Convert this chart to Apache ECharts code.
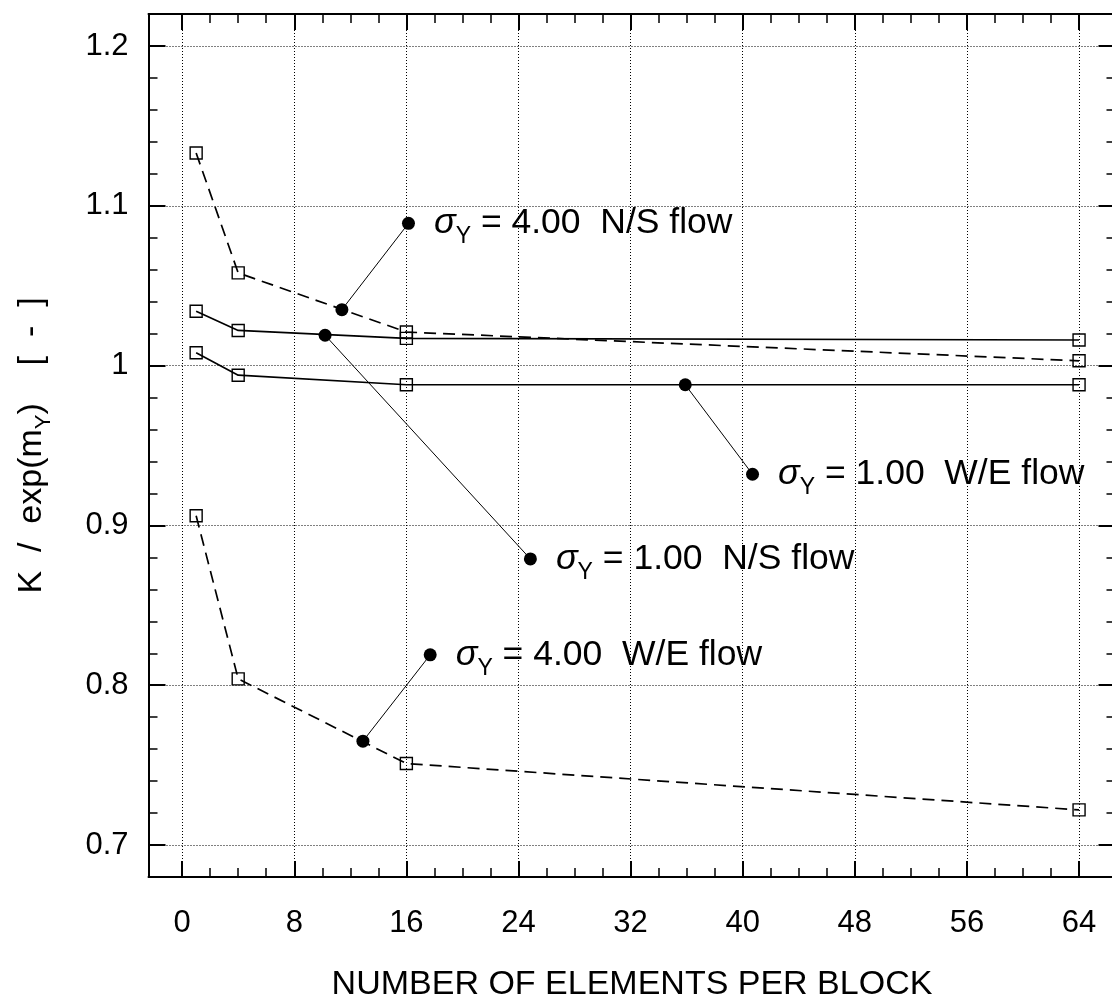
<!DOCTYPE html>
<html>
<head>
<meta charset="utf-8">
<title>K / exp(mY) versus number of elements per block</title>
<script src="https://cdn.jsdelivr.net/npm/echarts@6/dist/echarts.min.js"></script>
<style>
  html, body { margin: 0; padding: 0; background: #fff; }
  #chart { width: 1112px; height: 1003px; }
</style>
</head>
<body>
<div id="chart"></div>
<script>
// Number of fine-grid elements per coarse block
const blockSizes = [1, 4, 16, 64];

// Effective conductivity normalised by exp(mY)
const sigma4NS = [1.133, 1.058, 1.021, 1.003];
const sigma1NS = [1.034, 1.022, 1.017, 1.016];
const sigma1WE = [1.008, 0.994, 0.988, 0.988];
const sigma4WE = [0.906, 0.804, 0.751, 0.722];

// Callouts: point on the curve, point next to the text, and the text
const calloutFrom = [[11.4, 1.035], [10.2, 1.019], [35.9, 0.988], [12.9, 0.765]];
const calloutTo   = [[16.15, 1.089], [24.85, 0.879], [40.7, 0.932], [17.7, 0.819]];
const calloutText = ['4.00  N/S flow', '1.00  N/S flow', '1.00  W/E flow', '4.00  W/E flow'];

// Axis ticks and grid positions
const xMajor = [0, 8, 16, 24, 32, 40, 48, 56, 64];
const xMinor = [2, 4, 6, 10, 12, 14, 18, 20, 22, 26, 28, 30, 34, 36, 38, 42, 44, 46, 50, 52, 54, 58, 60, 62];
const yMajor = [0.7, 0.8, 0.9, 1, 1.1, 1.2];
const yMinor = [0.72, 0.74, 0.76, 0.78, 0.82, 0.84, 0.86, 0.88, 0.92, 0.94, 0.96, 0.98,
                1.02, 1.04, 1.06, 1.08, 1.12, 1.14, 1.16, 1.18];

const X_MIN = -2.4, X_MAX = 66.6, Y_MIN = 0.68, Y_MAX = 1.22;
const FONT = '"Liberation Sans", Arial, Helvetica, sans-serif';

function pairs(xs, ys) { return xs.map((x, i) => [x, ys[i]]); }

const hiddenLine = { show: false, onZero: false };
const frameLine = { show: true, onZero: false, lineStyle: { color: '#000', width: 2 } };

function tickAxis(kind, position, ticks, len, opts) {
  return Object.assign({
    type: 'value', position: position,
    min: kind === 'x' ? X_MIN : Y_MIN,
    max: kind === 'x' ? X_MAX : Y_MAX,
    axisLine: hiddenLine,
    axisTick: { show: true, inside: true, length: len, customValues: ticks,
                lineStyle: { color: '#000', width: len > 10 ? 2 : 1.5 } },
    axisLabel: { show: false },
    splitLine: { show: false }
  }, opts || {});
}

const xAxes = [
  tickAxis('x', 'bottom', xMajor, 16, {
    axisLine: frameLine,
    axisLabel: { show: true, customValues: xMajor, margin: 31, color: '#000',
                 fontSize: 31, fontFamily: FONT },
    name: 'NUMBER OF ELEMENTS PER BLOCK', nameLocation: 'middle', nameGap: 91,
    nameTextStyle: { color: '#000', fontSize: 34, fontFamily: FONT }
  }),
  tickAxis('x', 'bottom', xMinor, 9),
  tickAxis('x', 'top', xMajor, 16, { axisLine: frameLine }),
  tickAxis('x', 'top', xMinor, 9)
];
const yAxes = [
  tickAxis('y', 'left', yMajor, 17, {
    axisLine: frameLine,
    axisLabel: { show: true, customValues: yMajor, margin: 20, color: '#000',
                 fontSize: 31, fontFamily: FONT },
    name: 'K  /  exp(m{s|Y})    [  -  ]', nameLocation: 'middle', nameRotate: 90, nameGap: 94,
    nameTextStyle: {
      color: '#000', fontSize: 34, fontFamily: FONT, lineHeight: 46,
      rich: { s: { fontSize: 22, fontFamily: FONT, color: '#000', lineHeight: 20, verticalAlign: 'bottom' } }
    }
  }),
  tickAxis('y', 'left', yMinor, 9),
  tickAxis('y', 'right', yMajor, 17, { axisLine: frameLine }),
  tickAxis('y', 'right', yMinor, 9)
];

// Dotted grid drawn at the major tick values
const gridMarks = {
  silent: true, symbol: 'none', label: { show: false }, animation: false,
  lineStyle: { color: '#000', width: 1, type: [1, 2] },
  data: xMajor.map(v => ({ xAxis: v })).concat(yMajor.map(v => ({ yAxis: v })))
};

function curve(name, values, dashed, withGrid) {
  const s = {
    name: name, type: 'line', xAxisIndex: 0, yAxisIndex: 0,
    data: pairs(blockSizes, values),
    symbol: 'rect', symbolSize: 12,
    itemStyle: { color: 'rgba(255,255,255,0)', borderColor: '#000', borderWidth: 1.4 },
    lineStyle: { color: '#000', width: 1.7, type: dashed ? [12, 7] : 'solid' },
    z: 3
  };
  if (withGrid) s.markLine = gridMarks;
  return s;
}

const labelRich = {
  g: { fontSize: 36, fontFamily: FONT, fontStyle: 'italic', color: '#000', lineHeight: 50, verticalAlign: 'middle' },
  s: { fontSize: 23, fontFamily: FONT, color: '#000', lineHeight: 22, verticalAlign: 'bottom' },
  t: { fontSize: 35.5, fontFamily: FONT, color: '#000', lineHeight: 50, verticalAlign: 'middle' }
};

const callouts = calloutText.map((txt, i) => ({
  type: 'line', xAxisIndex: 0, yAxisIndex: 0, z: 4,
  symbol: 'circle', symbolSize: 13,
  itemStyle: { color: '#000' },
  lineStyle: { color: '#000', width: 1 },
  data: [
    { value: calloutFrom[i] },
    { value: calloutTo[i],
      label: { show: true, position: 'right', distance: 19,
               formatter: '{g|σ}{s|Y}{t| = ' + txt + '}', rich: labelRich } }
  ]
}));

const chart = echarts.init(document.getElementById('chart'), null, { renderer: 'canvas' });
chart.setOption({
  animation: false,
  backgroundColor: '#fff',
  grid: { left: 148.5, top: 14, width: 967, height: 863, containLabel: false, outerBoundsMode: 'none' },
  xAxis: xAxes,
  yAxis: yAxes,
  series: [
    curve('sigma 4.00 N/S', sigma4NS, true, true),
    curve('sigma 1.00 N/S', sigma1NS, false, false),
    curve('sigma 1.00 W/E', sigma1WE, false, false),
    curve('sigma 4.00 W/E', sigma4WE, true, false)
  ].concat(callouts)
});
</script>
</body>
</html>
